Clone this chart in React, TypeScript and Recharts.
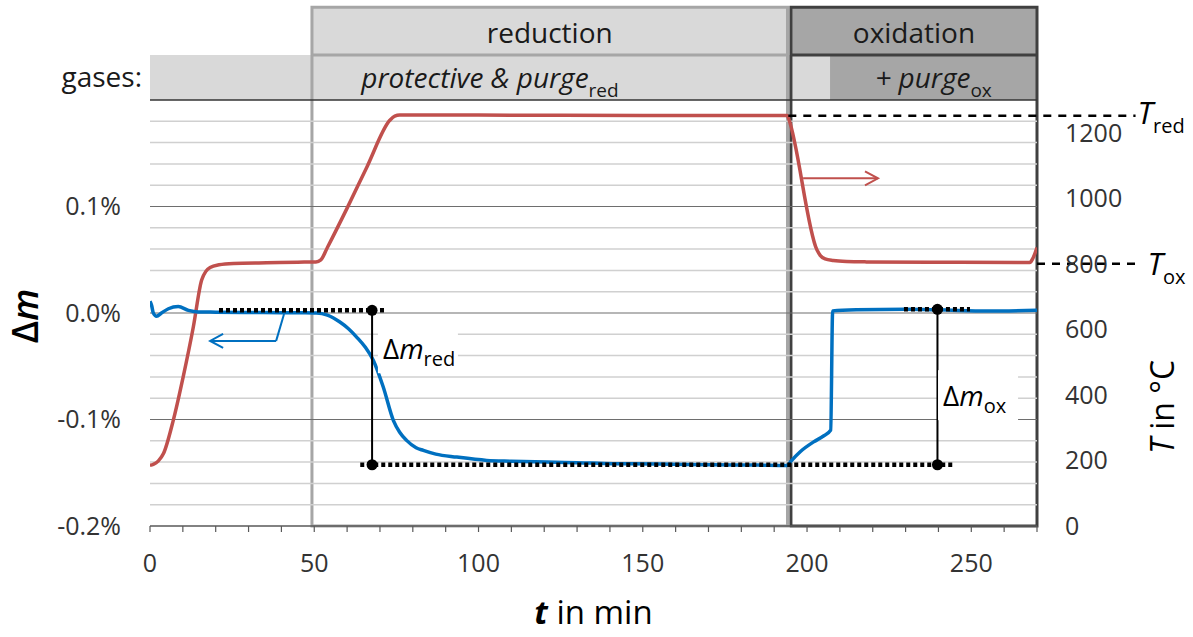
import { LineChart, Line, XAxis, YAxis, ReferenceArea, ReferenceLine, ReferenceDot } from 'recharts'

const FONT = '"Open Sans", sans-serif'
const W = 1193
const H = 637

// Δm in % (blue, left axis)
const massTime = [0, 0.5, 1, 2, 3.5, 5.6, 8.6, 11.7, 14.7, 20, 30, 40, 47, 50.7, 54, 57.8, 60.5, 62.9, 65.5, 68, 71, 74.1, 76, 78.1, 81, 83.2, 87, 93.4, 102.5, 110, 120.8, 130, 140.9, 155, 171.4, 185, 194, 195, 198, 202, 205, 207.2, 207.8, 215, 230, 240, 255, 270]
const massValue = [0.011, 0.007, 0.0, -0.003, 0.0, 0.004, 0.006, 0.0025, 0.001, 0.0008, 0.0005, 0.0003, 0.0002, 0.0, -0.002, -0.0085, -0.015, -0.0226, -0.032, -0.0445, -0.0695, -0.101, -0.112, -0.1196, -0.1265, -0.129, -0.1325, -0.1353, -0.1384, -0.1392, -0.14, -0.1405, -0.1415, -0.1418, -0.1425, -0.1428, -0.1431, -0.1395, -0.13, -0.121, -0.1155, -0.11, 0.002, 0.003, 0.0035, 0.003, 0.0018, 0.0025]

// temperature in °C (red, right axis)
const tempTime = [0, 1, 2.5, 4.1, 7.1, 10.1, 13.2, 15.7, 17, 18.3, 21, 25.4, 35.5, 45, 50.5, 52, 54, 60, 66, 73, 74.5, 76, 100, 150, 194, 194.4, 203, 204, 205.5, 208, 212, 218, 240, 267.8, 268.8, 270]
const tempValue = [185, 188, 198, 221, 323, 455, 608, 750, 777, 789, 797, 801, 803, 805, 806, 812, 850, 970, 1095, 1238, 1251, 1254, 1254, 1253, 1253, 1243, 843, 826, 815, 810, 807, 806, 805, 804, 818, 850]

const timeTicks = [0, 10, 20, 30, 40, 50, 60, 70, 80, 90, 100, 110, 120, 130, 140, 150, 160, 170, 180, 190, 200, 210, 220, 230, 240, 250, 260, 270]
const massTicks = [-0.2, -0.1, 0, 0.1]
const tempTicks = [0, 200, 400, 600, 800, 1000, 1200]
const minorGrid = [-0.18, -0.16, -0.14, -0.12, -0.08, -0.06, -0.04, -0.02, 0.02, 0.04, 0.06, 0.08, 0.12, 0.14, 0.16, 0.18]
const majorGrid = [-0.1, 0, 0.1]

// phases (min)
const redStart = 49.3
const redEnd = 194.05
const oxStart = 195.1
const oxEnd = 270
const oxGasStart = 207

// levels used for the annotations
const tRed = 1252
const tOx = 800
const dmTopRed = 0.0025
const dmTopOx = 0.0035
const dmBottom = -0.1425

// header rows, in left-axis units above the plot top
const GAS_TOP = 0.2423
const HEAD_TOP = 0.2871

const LIGHT = '#d9d9d9'
const DARK = '#a6a6a6'
const BORDER = '#404040'
const TICK = { fontSize: 25, fill: '#333', fontFamily: FONT }

function ArrowShape(props: any) {
  const { x1, y1, x2, y2, stroke, strokeWidth } = props
  const a = Math.atan2(y2 - y1, x2 - x1)
  const L = 13
  const w = 7
  const bx = x2 - L * Math.cos(a)
  const by = y2 - L * Math.sin(a)
  const px = -Math.sin(a) * w
  const py = Math.cos(a) * w
  return (
    <g>
      <line x1={x1} y1={y1} x2={x2} y2={y2} stroke={stroke} strokeWidth={strokeWidth} />
      <polyline points={`${bx + px},${by + py} ${x2},${y2} ${bx - px},${by - py}`} fill="none" stroke={stroke} strokeWidth={strokeWidth} />
    </g>
  )
}

function HeaderText({ viewBox, text, sub, italic, dy }: any) {
  const cx = viewBox.x + viewBox.width / 2
  const cy = viewBox.y + viewBox.height / 2
  return (
    <text x={cx} y={cy + dy} textAnchor="middle" fontSize={28} fill="#1a1a1a" fontFamily={FONT} fontStyle={italic ? 'italic' : 'normal'}>
      {text}
      {sub && <tspan fontSize={19} dy={9} fontStyle="normal">{sub}</tspan>}
    </text>
  )
}

function DeltaLabel({ cx, cy, sub, boxW }: any) {
  return (
    <g>
      <rect x={cx - 5} y={cy - 26} width={boxW} height={50} fill="#fff" />
      <text x={cx} y={cy + 10} fontSize={28} fill="#000" fontFamily={FONT}>
        Δ<tspan fontStyle="italic">m</tspan>
        <tspan fontSize={20} dy={7}>{sub}</tspan>
      </text>
    </g>
  )
}

function TempLabel({ cx, cy, sub, dx, dy }: any) {
  return (
    <text x={cx + dx} y={cy + dy} fontSize={31} fill="#000" fontFamily={FONT}>
      <tspan fontStyle="italic">T</tspan>
      <tspan fontSize={20} dy={9}>{sub}</tspan>
    </text>
  )
}

export default function App() {
  const massData = massTime.map((t, i) => ({ t, dm: massValue[i] }))
  const tempData = tempTime.map((t, i) => ({ t, T: tempValue[i] }))

  return (
    <div style={{ position: 'absolute', left: 0, top: 0, width: W, height: H, background: '#fff', fontFamily: FONT }}>
      <LineChart width={W} height={H} margin={{ top: 100, right: 0, bottom: 0, left: 0 }}>
        <XAxis
          type="number"
          dataKey="t"
          domain={[0, 270]}
          allowDataOverflow
          ticks={timeTicks}
          interval={0}
          tickFormatter={(v: number) => (v % 50 === 0 ? String(v) : '')}
          height={111}
          tickSize={6}
          tickMargin={22}
          axisLine={{ stroke: '#595959', strokeWidth: 1.5 }}
          tickLine={{ stroke: '#595959', strokeWidth: 1.2 }}
          tick={TICK}
          label={{
            content: ({ viewBox }: any) => (
              <text x={viewBox.x + viewBox.width / 2} y={viewBox.y + 98} textAnchor="middle" fontSize={33} fill="#000" fontFamily={FONT}>
                <tspan fontStyle="italic" fontWeight={700}>t</tspan> in min
              </text>
            ),
          }}
        />
        <YAxis
          domain={[-0.2, 0.2]}
          allowDataOverflow
          ticks={massTicks}
          interval={0}
          width={150}
          axisLine={false}
          tickLine={false}
          tickSize={0}
          tickMargin={29}
          tickFormatter={(v: number) => `${v.toFixed(1)}%`}
          tick={TICK}
          label={{
            content: () => (
              <text x={0} y={0} transform="translate(38 316) rotate(-90)" textAnchor="middle" fontSize={36} fontWeight={600} fill="#000" fontFamily={FONT}>
                Δ<tspan fontStyle="italic">m</tspan>
              </text>
            ),
          }}
        />
        <YAxis
          yAxisId="T"
          orientation="right"
          domain={[0, 1300]}
          allowDataOverflow
          ticks={tempTicks}
          interval={0}
          width={156}
          axisLine={false}
          tickLine={false}
          tickSize={0}
          tickMargin={28}
          tick={TICK}
          label={{
            content: () => (
              <text x={0} y={0} transform="translate(1174 407) rotate(-90)" textAnchor="middle" fontSize={32} fill="#000" fontFamily={FONT}>
                <tspan fontStyle="italic">T</tspan> in °C
              </text>
            ),
          }}
        />

        {/* grid */}
        {minorGrid.map((v) => (
          <ReferenceLine key={`mi${v}`} y={v} stroke="#d0d0d0" strokeWidth={1.5} />
        ))}
        {majorGrid.map((v) => (
          <ReferenceLine key={`ma${v}`} y={v} stroke="#6e6e6e" strokeWidth={1.2} />
        ))}
        <ReferenceLine y={0.2} stroke="#333" strokeWidth={1.5} />

        {/* gases row */}
        <ReferenceArea x1={0} x2={oxGasStart} y1={0.2} y2={GAS_TOP} ifOverflow="visible" fill={LIGHT} fillOpacity={1} stroke="none"
          label={{ content: ({ viewBox }: any) => <HeaderText viewBox={viewBox} text="protective & purge" sub="red" italic dy={10.5} /> }} />
        <ReferenceArea x1={oxGasStart} x2={oxEnd} y1={0.2} y2={GAS_TOP} ifOverflow="visible" fill={DARK} fillOpacity={1} stroke="none"
          label={{ content: ({ viewBox }: any) => <HeaderText viewBox={viewBox} text="+ purge" sub="ox" italic dy={10.5} /> }} />
        <ReferenceDot x={0} y={(0.2 + GAS_TOP) / 2} ifOverflow="visible"
          shape={(p: any) => <text x={p.cx - 8} y={p.cy + 10} textAnchor="end" fontSize={28} fill="#1a1a1a" fontFamily={FONT}>gases:</text>} />

        {/* phase headers */}
        <ReferenceArea x1={redStart} x2={redEnd} y1={GAS_TOP} y2={HEAD_TOP} ifOverflow="visible" fill={LIGHT} fillOpacity={1} stroke="none"
          label={{ content: ({ viewBox }: any) => <HeaderText viewBox={viewBox} text="reduction" dy={12} /> }} />
        <ReferenceArea x1={oxStart} x2={oxEnd} y1={GAS_TOP} y2={HEAD_TOP} ifOverflow="visible" fill={DARK} fillOpacity={1} stroke="none"
          label={{ content: ({ viewBox }: any) => <HeaderText viewBox={viewBox} text="oxidation" dy={12} /> }} />

        {/* phase frames */}
        <ReferenceArea x1={redStart} x2={redEnd} y1={-0.2} y2={HEAD_TOP} ifOverflow="visible" fill="none" stroke={DARK} strokeWidth={3} />
        <ReferenceLine segment={[{ x: redStart, y: GAS_TOP }, { x: redEnd, y: GAS_TOP }]} ifOverflow="visible" stroke={DARK} strokeWidth={3} />
        <ReferenceArea x1={oxStart} x2={oxEnd} y1={-0.2} y2={HEAD_TOP} ifOverflow="visible" fill="none" stroke={BORDER} strokeWidth={3} />
        <ReferenceLine segment={[{ x: oxStart, y: GAS_TOP }, { x: oxEnd, y: GAS_TOP }]} ifOverflow="visible" stroke={BORDER} strokeWidth={3} />

        {/* label boxes */}
        <ReferenceDot x={70.9} y={-0.034} shape={(p: any) => <DeltaLabel cx={p.cx} cy={p.cy} sub="red" boxW={80} />} />
        <ReferenceDot x={241.4} y={-0.0781} shape={(p: any) => <DeltaLabel cx={p.cx} cy={p.cy} sub="ox" boxW={80} />} />

        <Line data={tempData} dataKey="T" yAxisId="T" type="monotone" stroke="#c0504d" strokeWidth={3.5} dot={false} isAnimationActive={false} />
        <Line data={massData} dataKey="dm" type="monotone" stroke="#0070c0" strokeWidth={3.5} dot={false} isAnimationActive={false} />

        {/* temperature levels */}
        <ReferenceLine yAxisId="T" segment={[{ x: 194.3, y: tRed }, { x: 300, y: tRed }]} ifOverflow="visible" stroke="#000" strokeWidth={2.5} strokeDasharray="8 7" />
        <ReferenceLine yAxisId="T" segment={[{ x: oxEnd, y: tOx }, { x: 300, y: tOx }]} ifOverflow="visible" stroke="#000" strokeWidth={2.5} strokeDasharray="8 7" />
        <ReferenceDot yAxisId="T" x={300} y={tRed} ifOverflow="visible" shape={(p: any) => <TempLabel cx={p.cx} cy={p.cy} sub="red" dx={2} dy={8} />} />
        <ReferenceDot yAxisId="T" x={300} y={tOx} ifOverflow="visible" shape={(p: any) => <TempLabel cx={p.cx} cy={p.cy} sub="ox" dx={12} dy={11} />} />

        {/* axis arrows */}
        <ReferenceLine yAxisId="T" segment={[{ x: 198.8, y: 1061 }, { x: 221.6, y: 1061 }]} stroke="#c0504d" strokeWidth={2} shape={ArrowShape} />
        <ReferenceLine segment={[{ x: 40.8, y: -0.001 }, { x: 38.4, y: -0.0262 }]} stroke="#0070c0" strokeWidth={2} />
        <ReferenceLine segment={[{ x: 38.4, y: -0.0262 }, { x: 18.3, y: -0.0262 }]} stroke="#0070c0" strokeWidth={2} shape={ArrowShape} />

        {/* mass change markers */}
        <ReferenceLine segment={[{ x: 21, y: dmTopRed }, { x: 71.5, y: dmTopRed }]} stroke="#000" strokeWidth={4.5} strokeDasharray="4 3" />
        <ReferenceLine segment={[{ x: 64, y: dmBottom }, { x: 244.4, y: dmBottom }]} stroke="#000" strokeWidth={4.5} strokeDasharray="4 3" />
        <ReferenceLine segment={[{ x: 229.5, y: dmTopOx }, { x: 249.6, y: dmTopOx }]} stroke="#000" strokeWidth={4.5} strokeDasharray="4 3" />
        <ReferenceLine segment={[{ x: 67.6, y: dmTopRed }, { x: 67.6, y: dmBottom }]} stroke="#000" strokeWidth={2} />
        <ReferenceLine segment={[{ x: 239.7, y: dmTopOx }, { x: 239.7, y: dmBottom }]} stroke="#000" strokeWidth={2} />
        <ReferenceDot x={67.6} y={dmTopRed} r={5.5} fill="#000" stroke="none" />
        <ReferenceDot x={67.6} y={dmBottom} r={5.5} fill="#000" stroke="none" />
        <ReferenceDot x={239.7} y={dmTopOx} r={5.5} fill="#000" stroke="none" />
        <ReferenceDot x={239.7} y={dmBottom} r={5.5} fill="#000" stroke="none" />
      </LineChart>
    </div>
  )
}
